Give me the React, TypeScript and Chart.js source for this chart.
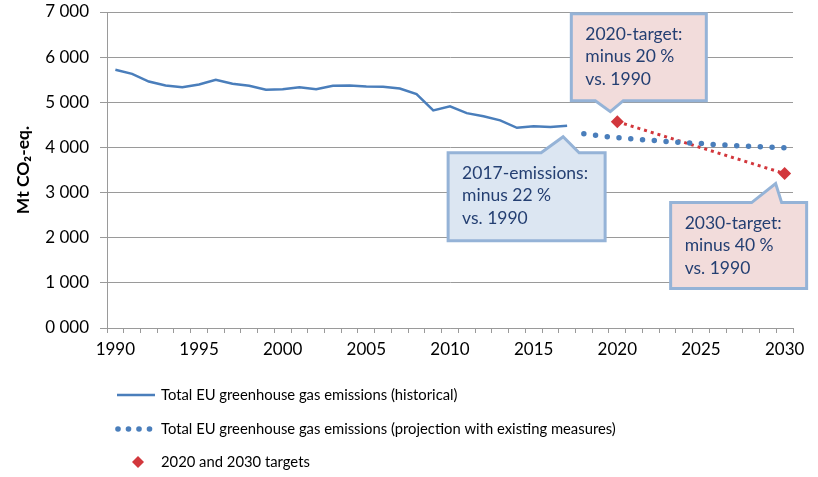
import React, { useEffect, useRef } from 'react';
import { Chart, registerables } from 'chart.js';

Chart.register(...registerables);

const years = [
  '1990', '1991', '1992', '1993', '1994', '1995', '1996', '1997', '1998', '1999',
  '2000', '2001', '2002', '2003', '2004', '2005', '2006', '2007', '2008', '2009',
  '2010', '2011', '2012', '2013', '2014', '2015', '2016', '2017', '2018', '2019',
  '2020', '2021', '2022', '2023', '2024', '2025', '2026', '2027', '2028', '2029', '2030',
];

// 1990–2017
const historical = [
  5720, 5630, 5460, 5370, 5335, 5395, 5500, 5410, 5365, 5280,
  5290, 5335, 5290, 5365, 5370, 5350, 5345, 5305, 5180, 4820,
  4910, 4760, 4690, 4600, 4435, 4470, 4455, 4480,
];
const historicalStart = '1990';

// 2018–2030
const projection = [4305, 4255, 4215, 4185, 4160, 4130, 4105, 4085, 4060, 4040, 4025, 4005, 3990];
const projectionStart = '2018';

const targetYears = ['2020', '2030'];
const targetValues = [4570, 3420];

const yTicks = [0, 1000, 2000, 3000, 4000, 5000, 6000, 7000];

const legendLabels = [
  'Total EU greenhouse gas emissions (historical)',
  'Total EU greenhouse gas emissions (projection with existing measures)',
  '2020 and 2030 targets',
];

const callouts = [
  { lines: ['2020-target:', 'minus 20 %', 'vs. 1990'], anchor: 'target2020', fill: '#f2dcdb' },
  { lines: ['2017-emissions:', 'minus 22 %', 'vs. 1990'], anchor: 'hist2017', fill: '#dce6f2' },
  { lines: ['2030-target:', 'minus 40 %', 'vs. 1990'], anchor: 'target2030', fill: '#f2dcdb' },
];

const BLUE = '#4a7ebb';
const RED = '#d2373c';
const FONT = 'Lato, "Open Sans", sans-serif';
const TEXT_BLUE = '#243f72';

function series(values: number[], start: string): (number | null)[] {
  const out: (number | null)[] = years.map(() => null);
  const s = years.indexOf(start);
  values.forEach((v, i) => { out[s + i] = v; });
  return out;
}

function targetSeries(): (number | null)[] {
  const out: (number | null)[] = years.map(() => null);
  targetYears.forEach((y, i) => { out[years.indexOf(y)] = targetValues[i]; });
  return out;
}

function fmt(v: number) {
  const th = Math.floor(v / 1000);
  const rest = String(v % 1000).padStart(3, '0');
  return `${th} ${rest}`;
}

// callout geometry relative to the anchor point (pixels)
const calloutGeom: Record<string, any> = {
  target2020: { box: [-46, 89, -108, -21], tip: [-7, -10], base: [-22, 6], side: 'bottom' },
  hist2017: { box: [-119, 38, 27, 115], tip: [-4, 11], base: [-26, 12], side: 'top' },
  target2030: { box: [-114, 22, 29, 115], tip: [-9, 10], base: [-33, -3], side: 'top' },
};

const calloutPlugin = {
  id: 'callouts',
  afterDatasetsDraw(chart: any) {
    const ctx = chart.ctx;
    const xs = chart.scales.x;
    const ys = chart.scales.y;
    const anchors: Record<string, [number, number]> = {
      target2020: [xs.getPixelForValue(years.indexOf(targetYears[0])), ys.getPixelForValue(targetValues[0])],
      target2030: [xs.getPixelForValue(years.indexOf(targetYears[1])), ys.getPixelForValue(targetValues[1])],
      hist2017: [
        xs.getPixelForValue(years.indexOf(historicalStart) + historical.length - 1),
        ys.getPixelForValue(historical[historical.length - 1]),
      ],
    };
    callouts.forEach((c) => {
      const [ax, ay] = anchors[c.anchor];
      const g = calloutGeom[c.anchor];
      const l = ax + g.box[0], r = ax + g.box[1], t = ay + g.box[2], b = ay + g.box[3];
      const tx = ax + g.tip[0], ty = ay + g.tip[1];
      const bl = ax + g.base[0], br = ax + g.base[1];
      ctx.save();
      ctx.beginPath();
      if (g.side === 'bottom') {
        ctx.moveTo(l, t); ctx.lineTo(r, t); ctx.lineTo(r, b); ctx.lineTo(br, b);
        ctx.lineTo(tx, ty); ctx.lineTo(bl, b); ctx.lineTo(l, b); ctx.closePath();
      } else {
        ctx.moveTo(l, t); ctx.lineTo(bl, t); ctx.lineTo(tx, ty); ctx.lineTo(br, t);
        ctx.lineTo(r, t); ctx.lineTo(r, b); ctx.lineTo(l, b); ctx.closePath();
      }
      ctx.fillStyle = c.fill;
      ctx.fill();
      ctx.lineWidth = 3;
      ctx.lineJoin = 'miter';
      ctx.strokeStyle = '#95b3d7';
      ctx.stroke();
      ctx.fillStyle = TEXT_BLUE;
      ctx.font = `17.5px ${FONT}`;
      ctx.textBaseline = 'middle';
      ctx.textAlign = 'left';
      c.lines.forEach((line, i) => {
        ctx.fillText(line, l + 14, t + 20.5 + i * 22.5);
      });
      ctx.restore();
    });
  },
};

const legendPlugin = {
  id: 'customLegend',
  afterDraw(chart: any) {
    const ctx = chart.ctx;
    const rows = [395, 429, 462];
    ctx.save();
    // historical line
    ctx.strokeStyle = BLUE;
    ctx.lineWidth = 2.5;
    ctx.beginPath();
    ctx.moveTo(117, rows[0]);
    ctx.lineTo(155, rows[0]);
    ctx.stroke();
    // dotted projection
    ctx.fillStyle = BLUE;
    [118, 128.5, 139, 149.5].forEach((x) => {
      ctx.beginPath();
      ctx.arc(x, rows[1], 2.8, 0, Math.PI * 2);
      ctx.fill();
    });
    // diamond
    ctx.fillStyle = RED;
    ctx.beginPath();
    const dx = 138, dy = rows[2];
    ctx.moveTo(dx, dy - 6); ctx.lineTo(dx + 6, dy); ctx.lineTo(dx, dy + 6); ctx.lineTo(dx - 6, dy);
    ctx.closePath();
    ctx.fill();
    ctx.fillStyle = '#000';
    ctx.font = `14.8px ${FONT}`;
    ctx.textBaseline = 'middle';
    ctx.textAlign = 'left';
    legendLabels.forEach((txt, i) => ctx.fillText(txt, 161, rows[i]));
    ctx.restore();
  },
};

export default function App() {
  const ref = useRef<HTMLCanvasElement>(null);
  useEffect(() => {
    document.body.style.margin = '0';
    const chart = new Chart(ref.current as HTMLCanvasElement, {
      type: 'line',
      data: {
        labels: years,
        datasets: [
          {
            label: legendLabels[0],
            data: series(historical, historicalStart),
            borderColor: BLUE,
            borderWidth: 2.5,
            pointRadius: 0,
            tension: 0,
          },
          {
            label: legendLabels[1],
            data: series(projection, projectionStart),
            borderColor: BLUE,
            borderWidth: 5.5,
            borderCapStyle: 'round',
            borderDash: [0, 11.8],
            pointRadius: 0,
            tension: 0,
          },
          {
            label: legendLabels[2],
            data: targetSeries(),
            borderColor: RED,
            borderWidth: 3,
            borderDash: [3, 4],
            backgroundColor: RED,
            pointStyle: 'rectRot',
            pointRadius: 6.5,
            pointBorderWidth: 0,
            pointBackgroundColor: RED,
            spanGaps: true,
            tension: 0,
          },
        ],
      },
      options: {
        animation: false,
        responsive: false,
        layout: { padding: { left: 0, right: 25, top: 12, bottom: 109 } },
        plugins: { legend: { display: false }, tooltip: { enabled: false } },
        scales: {
          x: {
            type: 'category',
            offset: true,
            grid: { offset: true, drawOnChartArea: false, color: '#9a9a9a', tickLength: 5, tickColor: '#9a9a9a' },
            border: { color: '#9a9a9a' },
            ticks: {
              autoSkip: false,
              maxRotation: 0,
              color: '#000',
              padding: 6,
              font: { family: FONT, size: 17 },
              callback: function (this: any, v: any) {
                const lab = years[v as number];
                return Number(lab) % 5 === 0 ? lab : '';
              },
            },
            afterFit: (s: any) => { s.height = 40; },
          },
          y: {
            min: 0,
            max: 7000,
            afterBuildTicks: (s: any) => { s.ticks = yTicks.map((v) => ({ value: v })); },
            grid: { color: '#9a9a9a', tickLength: 7, tickColor: '#9a9a9a' },
            border: { color: '#9a9a9a' },
            ticks: {
              color: '#000',
              padding: 11,
              font: { family: FONT, size: 17 },
              callback: (v: any) => fmt(Number(v)),
            },
            title: {
              display: true,
              text: 'Mt CO₂-eq.',
              color: '#000',
              font: { family: FONT, size: 17.5, weight: 'bold' },
              padding: { top: 13, bottom: 0 },
            },
            afterFit: (s: any) => { s.width = 107; s.paddingTop = 0; s.paddingBottom = 0; },
          },
        },
      },
      plugins: [calloutPlugin, legendPlugin],
    } as any);
    return () => chart.destroy();
  }, []);
  return (
    <div style={{ width: 818, height: 477 }}>
      <canvas ref={ref} width={818} height={477} style={{ display: 'block' }} />
    </div>
  );
}
